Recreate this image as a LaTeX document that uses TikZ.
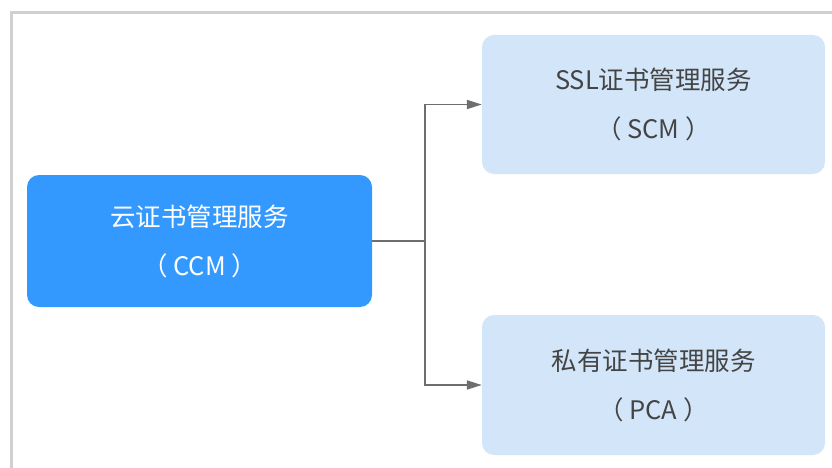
\documentclass[tikz,border=0pt]{standalone}
\usepackage{fontspec}
\newfontfamily\cjk{Noto Sans CJK SC}
\usetikzlibrary{arrows.meta}
\definecolor{framegray}{HTML}{D0D0D0}
\definecolor{mainblue}{HTML}{3399FF}
\definecolor{lightblue}{HTML}{D3E6F9}
\definecolor{txtgray}{HTML}{444444}
\definecolor{linegray}{HTML}{6E6E6E}
\tikzset{
  box/.style={rectangle, rounded corners=12pt, inner sep=0pt, align=center,
    font=\cjk\fontsize{25.5}{49}\selectfont},
  mainbox/.style={box, fill=mainblue, text=white},
  subbox/.style={box, fill=lightblue, text=txtgray},
  conn/.style={draw=linegray, line width=1.8pt},
  arr/.style={conn, -{Triangle[length=15pt,width=9pt]}}
}
\begin{document}
\begin{tikzpicture}[x=1pt,y=-1pt]
\useasboundingbox (0,0) rectangle (832,468);
\fill[white] (0,0) rectangle (832,468);
\draw[framegray, line width=2.2pt] (11.5,468) -- (11.5,12.5) -- (832,12.5);
\node[mainbox, minimum width=345pt, minimum height=132pt] (ccm) at (199.5,241) {云证书管理服务\\（ CCM ）};
\node[subbox, minimum width=343pt, minimum height=139pt] (scm) at (653.5,104.5) {SSL证书管理服务\\（ SCM ）};
\node[subbox, minimum width=343pt, minimum height=140pt] (pca) at (653.5,385) {私有证书管理服务\\（ PCA ）};
\coordinate (jn) at (425,241);
\draw[conn] (ccm.east) -- (jn);
\draw[arr] (jn) |- (scm.west);
\draw[arr] (jn) |- (pca.west);
\end{tikzpicture}
\end{document}
